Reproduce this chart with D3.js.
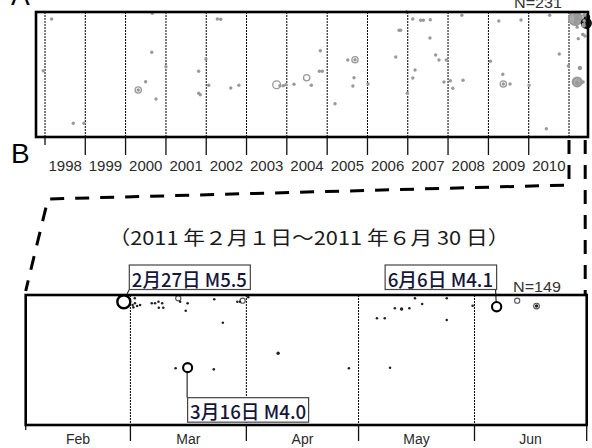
<!DOCTYPE html>
<html>
<head>
<meta charset="utf-8">
<script src="https://cdn.jsdelivr.net/npm/d3@7"></script>
<style>
  html, body { margin: 0; padding: 0; background: #fff; }
  svg { display: block; }
</style>
</head>
<body>
<svg id="chart" width="592" height="448"></svg>
<script>
// ---- data -------------------------------------------------------------
// Year boundaries on the long-term time axis, and the years that get a label
const yearTicks = d3.range(1998, 2012);
const yearLabels = d3.range(1998, 2011);

// Month boundaries and month names for the 2011 close-up
const monthTicks = ["2011-02-01", "2011-03-01", "2011-04-01", "2011-05-01", "2011-06-01", "2011-07-01"];
const monthLabels = ["Feb", "Mar", "Apr", "May", "Jun"];

// Background events, late 1997 to 2010: [date, position along section, magnitude]
const pastEvents = [
  ["1997-12-16", 47.0, 2.5], ["1998-03-02", 5.6, 2.5], ["1998-09-14", 89.0, 2.5],
  ["1998-12-20", 89.0, 2.5], ["2000-04-25", 62.4, 3.5], ["2000-04-25", 62.4, 2.5],
  ["2000-07-01", 55.8, 2.5], ["2000-08-25", 32.2, 2.5], ["2000-08-30", 1.0, 2.5],
  ["2000-10-03", 69.6, 2.5], ["2001-01-01", 43.8, 2.5], ["2001-10-24", 47.4, 2.5],
  ["2001-10-25", 65.0, 2.5], ["2001-11-08", 66.2, 2.5], ["2001-12-29", 37.6, 2.5],
  ["2002-01-23", 58.6, 2.5], ["2002-04-11", 5.6, 2.5], ["2002-05-12", 5.8, 2.5],
  ["2002-08-11", 60.8, 2.5], ["2002-10-24", 58.6, 2.5], ["2003-10-01", 58.2, 3.8],
  ["2003-10-31", 59.0, 2.5], ["2003-11-30", 59.0, 2.5], ["2003-12-24", 58.2, 2.5],
  ["2004-03-06", 57.8, 2.5], ["2004-06-29", 52.6, 3.5], ["2004-08-10", 58.6, 2.5],
  ["2004-10-22", 47.4, 2.5], ["2004-11-18", 47.4, 2.5], ["2004-10-31", 31.0, 2.5],
  ["2005-03-13", 73.4, 2.5], ["2005-07-06", 38.4, 2.5], ["2005-09-10", 38.2, 3.5],
  ["2005-09-10", 38.2, 2.5], ["2005-09-01", 52.6, 2.5], ["2005-08-22", 59.2, 2.5],
  ["2006-01-06", 57.6, 2.5], ["2006-09-14", 36.0, 2.5], ["2006-10-14", 14.6, 2.5],
  ["2006-10-29", 14.6, 2.5], ["2006-12-22", 0.0, 2.5], ["2006-12-28", 65.0, 2.5],
  ["2007-02-15", 5.6, 2.5], ["2007-02-16", 52.8, 2.5], ["2007-03-08", 46.4, 2.5],
  ["2007-04-28", 6.6, 2.5], ["2007-05-22", 6.6, 2.5], ["2007-07-24", 6.2, 2.5],
  ["2007-07-21", 20.8, 2.5], ["2007-09-11", 34.4, 2.5], ["2007-10-11", 38.4, 2.5],
  ["2007-11-25", 56.0, 2.5], ["2007-12-16", 38.4, 2.5], ["2008-01-22", 55.0, 2.5],
  ["2008-02-13", 61.0, 2.5], ["2008-05-05", 2.6, 2.5], ["2008-05-16", 54.6, 2.5],
  ["2009-01-19", 39.4, 2.5], ["2009-04-05", 7.2, 2.5], ["2009-05-11", 49.8, 2.5],
  ["2009-05-16", 57.6, 3.5], ["2009-05-16", 57.6, 2.5], ["2009-07-16", 57.6, 2.5],
  ["2009-10-23", 6.4, 2.5], ["2010-01-04", 58.6, 2.5], ["2010-06-10", 93.4, 2.5],
  ["2010-07-10", 2.6, 2.5], ["2010-10-05", 33.6, 2.5], ["2010-12-26", 43.2, 2.5]
];

// 2011 sequence, 1 Feb to 30 Jun: [date-time (UTC), position along section, magnitude]
const swarmEvents = [
  ["2011-02-27T05:38", 5.2, 5.5],
  ["2011-03-01T14:00", 7.7, 2.5], ["2011-03-02T05:00", 6.4, 2.5], ["2011-03-02T19:00", 8.5, 2.5],
  ["2011-03-03T14:00", 7.7, 2.5], ["2011-03-01T19:00", 9.5, 2.5], ["2011-03-02T04:00", 2.5, 2.5],
  ["2011-03-06T17:00", 6.4, 2.5], ["2011-03-07T14:00", 6.4, 2.5], ["2011-03-08T12:00", 5.2, 2.5],
  ["2011-03-09T12:00", 6.4, 2.5], ["2011-03-08T14:00", 9.8, 2.5], ["2011-03-09T19:00", 9.8, 2.5],
  ["2011-03-13T19:00", 2.5, 3.3], ["2011-03-14T07:00", 5.2, 2.5], ["2011-03-16T07:00", 6.4, 2.5],
  ["2011-03-15T19:00", 12.1, 2.5], ["2011-03-23T10:00", 3.3, 2.5], ["2011-03-25T17:00", 21.3, 2.5],
  ["2011-03-29T14:00", 5.2, 2.5], ["2011-03-30T07:00", 5.2, 2.5], ["2011-03-31T00:00", 4.4, 3.3],
  ["2011-04-01T12:00", 1.8, 2.5],
  ["2011-03-13T02:00", 56.4, 2.5], ["2011-03-16T07:00", 55.9, 4.0], ["2011-03-23T07:00", 57.2, 2.5],
  ["2011-04-09T12:00", 44.8, 2.9], ["2011-04-28T10:00", 56.4, 2.5], ["2011-05-09T10:00", 55.9, 2.5],
  ["2011-05-05T22:00", 17.9, 2.5], ["2011-05-08T00:00", 17.9, 2.5], ["2011-05-10T17:00", 10.2, 2.5],
  ["2011-05-12T12:00", 10.8, 2.8], ["2011-05-14T14:00", 10.2, 2.5], ["2011-05-16T02:00", 2.5, 2.5],
  ["2011-05-18T00:00", 6.9, 2.5], ["2011-05-24T14:00", 2.5, 2.5], ["2011-05-24T14:00", 19.2, 2.5],
  ["2011-05-31T12:00", 8.2, 2.5],
  ["2011-06-06T22:00", 9.0, 4.1], ["2011-06-12T10:00", 4.4, 3.3],
  ["2011-06-17T14:00", 8.5, 3.4], ["2011-06-17T14:00", 8.5, 2.9]
];

// Events that carry a callout (date, magnitude)
const calloutEvents = [["2011-02-27", 5.5], ["2011-03-16", 4.0], ["2011-06-06", 4.1]];

const countA = "N=231";
const countB = "N=149";
const periodTitle = "（2011 年２月１日～2011 年６月 30 日）";

// ---- helpers ----------------------------------------------------------
const parseT = s => new Date(s.length === 10 ? s + "T00:00:00Z" : s + ":00Z");
const toRec = d => ({ t: parseT(d[0]), v: d[1], m: d[2] });
const past = pastEvents.map(toRec);
const swarm = swarmEvents.map(toRec);
const allEvents = past.concat(swarm);

const isRing = m => m >= 3.3;
const ringR = d3.scaleLinear().domain([3.3, 4.0, 5.5]).range([2.6, 4.5, 6.5]);
const dotR = m => (m >= 2.8 ? 2.0 : 1.5);

const svg = d3.select("#chart");
const sans = "'Liberation Sans', Arial, Helvetica, sans-serif";
const cjk = "'Noto Sans CJK JP', 'Noto Sans', sans-serif";

// ---- panel A: long-term record ----------------------------------------
const A = { left: 36, right: 588, top: 12, bottom: 137 };
const xA = d3.scaleUtc()
  .domain([Date.UTC(1998, 0, 1), Date.UTC(2011, 0, 1)])
  .range([45, 569]);
const yA = d3.scaleLinear().domain([0, 100]).range([A.top, A.bottom]);

const gA = svg.append("g");

// dotted year boundaries inside the frame
gA.selectAll("line.grid")
  .data(yearTicks)
  .join("line")
  .attr("x1", d => xA(Date.UTC(d, 0, 1))).attr("x2", d => xA(Date.UTC(d, 0, 1)))
  .attr("y1", A.top).attr("y2", A.bottom)
  .attr("stroke", "#000").attr("stroke-width", 1)
  .attr("stroke-dasharray", "2,1");

// ticks below the frame
gA.selectAll("line.tick")
  .data(yearTicks.filter(d => d < 2011))
  .join("line")
  .attr("x1", d => xA(Date.UTC(d, 0, 1))).attr("x2", d => xA(Date.UTC(d, 0, 1)))
  .attr("y1", A.bottom).attr("y2", (d, i) => (i === 0 ? A.bottom + 8 : A.bottom + 18))
  .attr("stroke", "#111").attr("stroke-width", 1.3);

// year labels centred in each year
gA.selectAll("text.year")
  .data(yearLabels)
  .join("text")
  .attr("x", d => (xA(Date.UTC(d, 0, 1)) + xA(Date.UTC(d + 1, 0, 1))) / 2)
  .attr("y", 170.5)
  .attr("text-anchor", "middle")
  .attr("font-family", sans).attr("font-size", 15).attr("fill", "#2a2a2a")
  .text(d => d);

// events: older ones in grey, the latest month in black; the dense 2011
// rings are shaded so the compressed swarm reads as a single patch
const lateCut = parseT("2011-06-01");
const swarmStart = parseT("2011-01-01");
const colA = d => (d.t >= lateCut ? "#111" : "#999");
gA.selectAll("circle.ring")
  .data(allEvents.filter(d => isRing(d.m)))
  .join("circle")
  .attr("cx", d => xA(d.t)).attr("cy", d => yA(d.v))
  .attr("r", d => ringR(d.m))
  .attr("fill", d => (d.t >= swarmStart ? (d.t >= lateCut ? "#333" : "#aaa") : "none"))
  .attr("stroke", colA)
  .attr("stroke-width", d => (d.m >= 4 ? 2 : 1.3));
gA.selectAll("circle.dot")
  .data(allEvents.filter(d => !isRing(d.m)))
  .join("circle")
  .attr("cx", d => xA(d.t)).attr("cy", d => yA(d.v))
  .attr("r", d => dotR(d.m) + 0.2)
  .attr("fill", colA);

// frame
gA.append("rect")
  .attr("x", A.left).attr("y", A.top)
  .attr("width", A.right - A.left).attr("height", A.bottom - A.top)
  .attr("fill", "none").attr("stroke", "#000").attr("stroke-width", 2.6);

gA.append("text")
  .attr("x", 538).attr("y", 8)
  .attr("text-anchor", "middle")
  .attr("font-family", sans).attr("font-size", 14).attr("fill", "#333")
  .attr("textLength", 48).attr("lengthAdjust", "spacingAndGlyphs")
  .text(countA);

svg.append("text").attr("x", 11).attr("y", 5)
  .attr("font-family", sans).attr("font-size", 28).attr("fill", "#000").text("A");
svg.append("text").attr("x", 11).attr("y", 163)
  .attr("font-family", sans).attr("font-size", 28).attr("fill", "#000").text("B");

// ---- panel B: 2011 close-up --------------------------------------------
const B = { left: 25.7, right: 586.7, top: 295, bottom: 425 };
const xB = d3.scaleUtc()
  .domain([parseT(monthTicks[0]), parseT(monthTicks[monthTicks.length - 1])])
  .range([B.left, B.right]);
const yB = d3.scaleLinear().domain([0, 100]).range([B.top, B.bottom]);

// expansion guide from the 2011 slice of panel A down to panel B
const x2011 = xA(Date.UTC(2011, 0, 1));
const guide = svg.append("g")
  .attr("fill", "none").attr("stroke", "#000").attr("stroke-width", 3)
  .attr("stroke-dasharray", "14,11");
guide.append("path")
  .attr("d", `M${x2011},${A.bottom + 3} V185 L48,199 L${B.left},${B.top - 4}`);
guide.append("path")
  .attr("d", `M${B.right - 1.5},${A.bottom + 3} V${B.top}`);

svg.append("text")
  .attr("x", 108.5).attr("y", 245)
  .attr("font-family", cjk).attr("font-size", 19).attr("fill", "#1a1a1a")
  .attr("textLength", 401).attr("lengthAdjust", "spacingAndGlyphs")
  .text(periodTitle);

const gB = svg.append("g");
const months = monthTicks.map(parseT);

gB.selectAll("line.grid")
  .data(months.slice(1, -1))
  .join("line")
  .attr("x1", d => xB(d)).attr("x2", d => xB(d))
  .attr("y1", B.top).attr("y2", B.bottom)
  .attr("stroke", "#000").attr("stroke-width", 1)
  .attr("stroke-dasharray", "2,1");

gB.selectAll("line.tick")
  .data(months)
  .join("line")
  .attr("x1", d => xB(d)).attr("x2", d => xB(d))
  .attr("y1", B.bottom).attr("y2", (d, i) => (i === 0 ? B.bottom + 5 : B.bottom + 16))
  .attr("stroke", "#111").attr("stroke-width", 1.3);

gB.selectAll("text.month")
  .data(monthLabels)
  .join("text")
  .attr("x", (d, i) => (xB(months[i]) + xB(months[i + 1])) / 2)
  .attr("y", 444)
  .attr("text-anchor", "middle")
  .attr("font-family", sans).attr("font-size", 14).attr("fill", "#2a2a2a")
  .text(d => d);

gB.selectAll("circle.ring")
  .data(swarm.filter(d => isRing(d.m)))
  .join("circle")
  .attr("cx", d => xB(d.t)).attr("cy", d => yB(d.v))
  .attr("r", d => ringR(d.m))
  .attr("fill", "none")
  .attr("stroke", d => (d.m >= 4 ? "#000" : "#555"))
  .attr("stroke-width", d => (d.m >= 5 ? 2.4 : d.m >= 4 ? 2.1 : 1.1));
gB.selectAll("circle.dot")
  .data(swarm.filter(d => !isRing(d.m)))
  .join("circle")
  .attr("cx", d => xB(d.t)).attr("cy", d => yB(d.v))
  .attr("r", d => dotR(d.m) * 0.85)
  .attr("fill", "#222");

gB.append("rect")
  .attr("x", B.left).attr("y", B.top)
  .attr("width", B.right - B.left).attr("height", B.bottom - B.top)
  .attr("fill", "none").attr("stroke", "#000").attr("stroke-width", 2.6);

gB.append("text")
  .attr("x", 537).attr("y", 291.5)
  .attr("text-anchor", "middle")
  .attr("font-family", sans).attr("font-size", 14).attr("fill", "#333")
  .attr("textLength", 48).attr("lengthAdjust", "spacingAndGlyphs")
  .text(countB);

// ---- callouts -----------------------------------------------------------
const fmtDay = d3.utcFormat("%-m月%-d日");
const fmtDate = d3.utcFormat("%Y-%m-%d");
const callouts = calloutEvents.map(([day, mag]) =>
  swarm.find(e => fmtDate(e.t) === day && e.m === mag));

// box placement relative to each event: which corner touches the leader
const boxW = [121, 121, 111.5], boxH = 24.5;
const place = [
  e => ({ x: xB(e.t) + 5.5, y: 265, lx1: xB(e.t) + 5.5, ly1: 289.5, lx2: xB(e.t) + 2, ly2: yB(e.v) - ringR(e.m) + 1 }),
  e => ({ x: xB(e.t), y: yB(e.v) + 30, lx1: xB(e.t) - 0.5, ly1: yB(e.v) + ringR(e.m), lx2: xB(e.t) - 0.5, ly2: yB(e.v) + 30 }),
  e => ({ x: xB(e.t) - 111.5, y: 265, lx1: xB(e.t) - 1, ly1: 289.5, lx2: xB(e.t) - 0.5, ly2: yB(e.v) - ringR(e.m) })
];
const textW = [115, 116, 105.5];

callouts.forEach((e, i) => {
  const p = place[i](e);
  const g = svg.append("g");
  g.append("line")
    .attr("x1", p.lx1).attr("y1", p.ly1).attr("x2", p.lx2).attr("y2", p.ly2)
    .attr("stroke", "#000").attr("stroke-width", 1);
  g.append("rect")
    .attr("x", p.x).attr("y", p.y).attr("width", boxW[i]).attr("height", boxH)
    .attr("fill", "#fff").attr("stroke", "#444").attr("stroke-width", 1.2);
  g.append("text")
    .attr("x", p.x + 2.5).attr("y", p.y + 21.5)
    .attr("font-family", cjk).attr("font-size", 19).attr("font-weight", 500)
    .attr("fill", "#15153a")
    .attr("textLength", textW[i]).attr("lengthAdjust", "spacingAndGlyphs")
    .text(`${fmtDay(e.t)} M${e.m.toFixed(1)}`);
});
</script>
</body>
</html>
